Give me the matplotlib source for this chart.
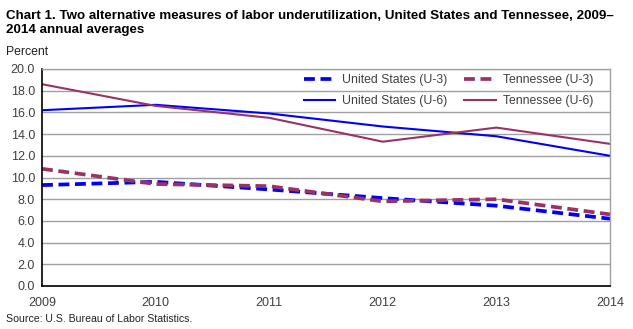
import matplotlib
matplotlib.use("Agg")
import matplotlib.pyplot as plt

plt.rcParams['font.family'] = ['Liberation Sans', 'DejaVu Sans']

years = [2009, 2010, 2011, 2012, 2013, 2014]
us_u3 = [9.3, 9.6, 8.9, 8.1, 7.4, 6.2]
tn_u3 = [10.8, 9.4, 9.2, 7.8, 8.0, 6.6]
us_u6 = [16.2, 16.7, 15.9, 14.7, 13.8, 12.0]
tn_u6 = [18.6, 16.6, 15.5, 13.3, 14.6, 13.1]
yticks = [0.0, 2.0, 4.0, 6.0, 8.0, 10.0, 12.0, 14.0, 16.0, 18.0, 20.0]

blue = '#0000FF'
maroon = '#993366'
text_gray = '#404040'
dashed = (0, (2.9, 1.5))

fig = plt.figure(figsize=(6.33, 3.29), dpi=100)
ax = fig.add_axes([42 / 633, 1 - 286 / 329, (610 - 42) / 633, (286 - 69) / 329])

l_us3, = ax.plot(years, us_u3, color=blue, lw=2.7, ls=dashed, label='United States (U-3)')
l_tn3, = ax.plot(years, tn_u3, color=maroon, lw=2.7, ls=dashed, label='Tennessee (U-3)')
l_us6, = ax.plot(years, us_u6, color=blue, lw=1.5, label='United States (U-6)')
l_tn6, = ax.plot(years, tn_u6, color=maroon, lw=1.5, label='Tennessee (U-6)')

ax.set_xlim(2009, 2014)
ax.set_ylim(0, 20)
ax.set_xticks(years)
ax.set_yticks(yticks)
ax.set_yticklabels([f'{v:.1f}' for v in yticks])
ax.yaxis.grid(True, color='#A0A0A0', lw=1)
ax.set_axisbelow(True)
ax.tick_params(length=0, labelsize=9, colors=text_gray)
ax.tick_params(axis='x', pad=8)
ax.tick_params(axis='y', pad=5)
for side in ['left', 'bottom']:
    ax.spines[side].set_color('black')
    ax.spines[side].set_linewidth(1.2)
for side in ['right', 'top']:
    ax.spines[side].set_color('#A0A0A0')
    ax.spines[side].set_linewidth(1)

# column-major fill, so pass handles in order that reads row-wise
handles = [l_us3, l_us6, l_tn3, l_tn6]
ax.legend(handles=handles, labels=[h.get_label() for h in handles],
          loc='upper right', bbox_to_anchor=(0.99, 1.027), ncol=2, frameon=False,
          fontsize=8.8, handlelength=2.6, handletextpad=0.55, columnspacing=1.4,
          labelspacing=0.75, labelcolor=text_gray)

fig.text(6 / 633, 1 - 23 / 329, 'Chart 1. Two alternative measures of labor underutilization, United States and Tennessee, 2009–\n2014 annual averages',
         fontsize=9.6, fontweight='bold', va='center', ha='left', linespacing=1.2)
fig.text(6 / 633, 1 - 52 / 329, 'Percent', fontsize=8.8, va='center', ha='left', color='#222222')
fig.text(6 / 633, 1 - 319 / 329, 'Source: U.S. Bureau of Labor Statistics.', fontsize=7.6, va='center', ha='left', color='#222222')

fig.savefig('out.png', dpi=100)
